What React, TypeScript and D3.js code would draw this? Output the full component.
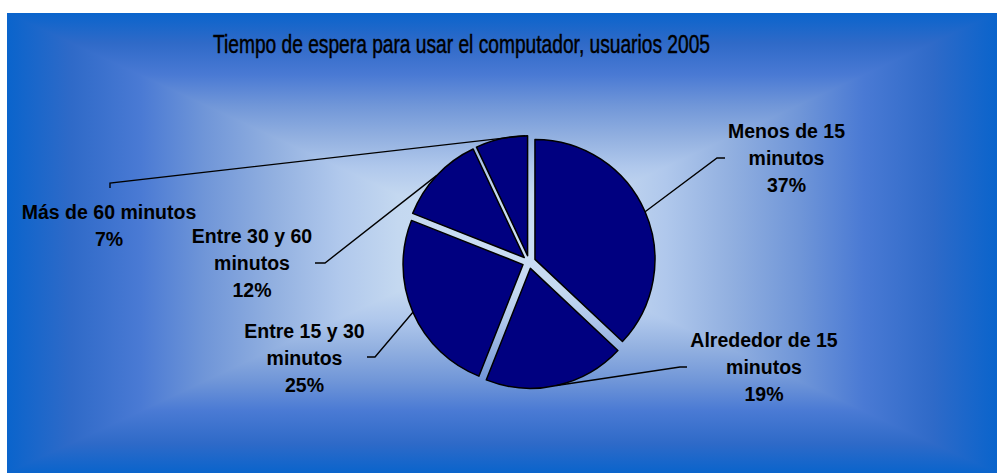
import React from "react";
import * as d3 from "d3";

const title = "Tiempo de espera para usar el computador, usuarios 2005";
const categories = [
  "Menos de 15 minutos",
  "Alrededor de 15 minutos",
  "Entre 15 y 30 minutos",
  "Entre 30 y 60 minutos",
  "Más de 60 minutos",
];
const values = [37, 19, 25, 12, 7];
const labelLines = [
  ["Menos de 15", "minutos"],
  ["Alrededor de 15", "minutos"],
  ["Entre 15 y 30", "minutos"],
  ["Entre 30 y 60", "minutos"],
  ["Más de 60 minutos"],
];

// layout (positions only)
const W = 997;
const H = 473;
const frame = { x: 7, y: 13, w: 990, h: 460 };
const pieCenter = { x: 529, y: 262 };
const radius = 120;
const explode = 6.5;
const labelAnchors = [
  { x: 786.5, y: 137.7, elbow: [717, 158], end: [725, 158] },
  { x: 764, y: 346.7, elbow: [680, 367], end: [687, 367] },
  { x: 304.5, y: 338.3, elbow: [375, 357], end: [367, 357] },
  { x: 252, y: 242.7, elbow: [325, 263], end: [315, 263] },
  { x: 109, y: 219.3, elbow: [110, 183], end: [110, 188] },
];
const leaderAngleOffset = [0, 0, 0, 0, 0.2];

const gradientStops: [number, string][] = [
  [0, "#0A64CC"],
  [0.13, "#2F6AC8"],
  [0.27, "#4A7AD4"],
  [0.4, "#7096D8"],
  [0.54, "#92B0E0"],
  [0.67, "#B0C8EC"],
  [0.79, "#C4D8F0"],
  [1, "#CCDFF4"],
];

export default function App() {
  const total = d3.sum(values);
  const pie = d3
    .pie<number>()
    .sort(null)
    .value((d) => d)
    .startAngle(0)
    .endAngle(2 * Math.PI);
  const arcs = pie(values);
  const arc = d3.arc<d3.PieArcDatum<number>>().innerRadius(0).outerRadius(radius);

  const fx0 = frame.x, fy0 = frame.y, fx1 = frame.x + frame.w, fy1 = frame.y + frame.h;
  const cx = (fx0 + fx1) / 2, cy = (fy0 + fy1) / 2;

  const tri = (pts: number[][]) => "M" + pts.map((p) => p.join(",")).join("L") + "Z";

  return (
    <svg
      width={W}
      height={H}
      style={{ position: "absolute", left: 0, top: 0, display: "block" }}
      fontFamily="'Liberation Sans', Arial, sans-serif"
    >
      <defs>
        {[
          { id: "gTop", x1: cx, y1: fy0, x2: cx, y2: cy },
          { id: "gBot", x1: cx, y1: fy1, x2: cx, y2: cy },
          { id: "gLeft", x1: fx0, y1: cy, x2: cx, y2: cy },
          { id: "gRight", x1: fx1, y1: cy, x2: cx, y2: cy },
        ].map((g) => (
          <linearGradient key={g.id} id={g.id} gradientUnits="userSpaceOnUse" x1={g.x1} y1={g.y1} x2={g.x2} y2={g.y2}>
            {gradientStops.map(([o, c]) => (
              <stop key={o} offset={o} stopColor={c} />
            ))}
          </linearGradient>
        ))}
      </defs>
      <rect x={0} y={0} width={W} height={H} fill="#ffffff" />
      <rect x={fx0} y={fy0} width={cx - fx0 + 1} height={frame.h} fill="url(#gLeft)" />
      <rect x={cx} y={fy0} width={fx1 - cx} height={frame.h} fill="url(#gRight)" />
      <path d={tri([[fx0, fy0], [fx1, fy0], [cx, cy]])} fill="url(#gTop)" />
      <path d={tri([[fx0, fy1], [fx1, fy1], [cx, cy]])} fill="url(#gBot)" />

      <text
        x={461.5}
        y={53}
        textAnchor="middle"
        fontSize={25.5}
        fontFamily="'Liberation Sans Narrow', 'Arial Narrow', 'Liberation Sans', Arial, sans-serif"
        textLength={497}
        lengthAdjust="spacingAndGlyphs"
        fill="#000"
        stroke="#000"
        strokeWidth={0.45}
      >
        {title}
      </text>

      {arcs.map((a, i) => {
        const mid = (a.startAngle + a.endAngle) / 2;
        const ox = pieCenter.x + Math.sin(mid) * explode;
        const oy = pieCenter.y - Math.cos(mid) * explode;
        const la = mid + leaderAngleOffset[i];
        const sx = ox + Math.sin(la) * radius;
        const sy = oy - Math.cos(la) * radius;
        const L = labelAnchors[i];
        return (
          <g key={categories[i]}>
            <path
              d={arc(a) || ""}
              transform={`translate(${ox},${oy})`}
              fill="#000080"
              stroke="#000"
              strokeWidth={1.5}
              strokeLinejoin="round"
            />
            <polyline
              points={`${sx},${sy} ${L.elbow[0]},${L.elbow[1]} ${L.end[0]},${L.end[1]}`}
              fill="none"
              stroke="#000"
              strokeWidth={1.4}
            />
          </g>
        );
      })}

      {arcs.map((a, i) => {
        const L = labelAnchors[i];
        const lines = [...labelLines[i], `${Math.round((values[i] / total) * 100)}%`];
        return (
          <text key={"l" + i} textAnchor="middle" fontSize={19.5} fontWeight="bold" fill="#000">
            {lines.map((t, j) => (
              <tspan key={j} x={L.x} y={L.y + j * 26.9}>
                {t}
              </tspan>
            ))}
          </text>
        );
      })}
    </svg>
  );
}
